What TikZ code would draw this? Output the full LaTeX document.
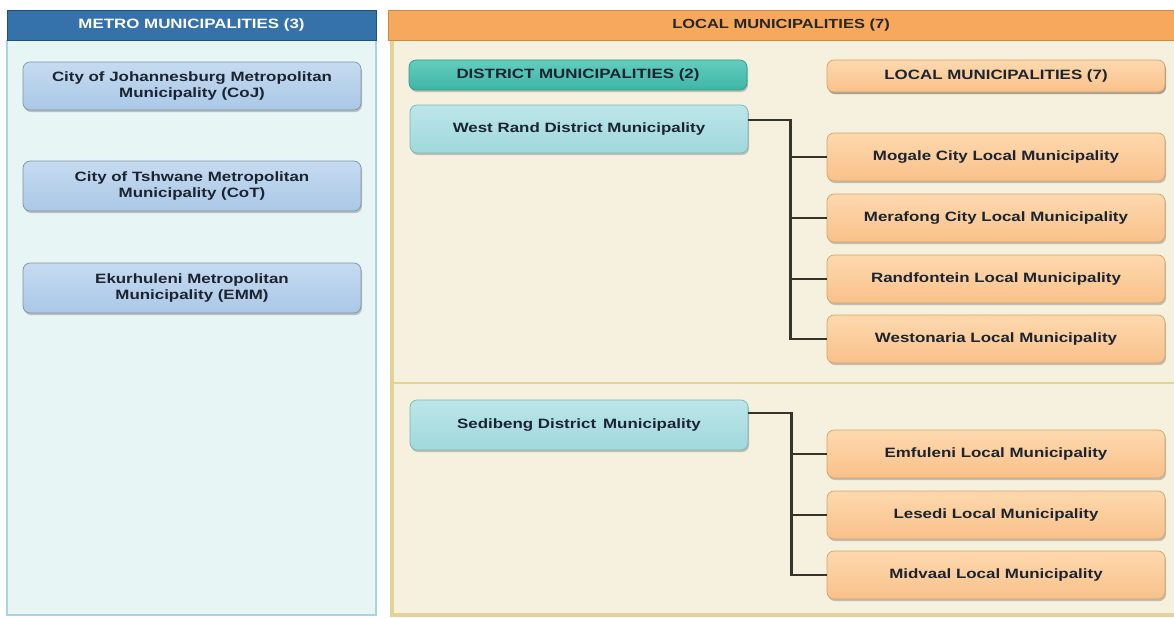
\documentclass[tikz,border=0pt]{standalone}
\usepackage{fontspec}
\setmainfont{Liberation Sans}[FakeStretch=1.25]
\usetikzlibrary{positioning, shadows, calc}

\definecolor{metroHead}{HTML}{3672AA}
\definecolor{metroHeadEdge}{HTML}{1F4E80}
\definecolor{metroPanel}{HTML}{E8F5F5}
\definecolor{metroEdge}{HTML}{A9D3DD}
\definecolor{metroTop}{HTML}{C6DBF0}
\definecolor{metroBot}{HTML}{AAC8E7}
\definecolor{metroDraw}{HTML}{7F93A8}
\definecolor{localHead}{HTML}{F6A95C}
\definecolor{localHeadEdge}{HTML}{C98A48}
\definecolor{localPanel}{HTML}{F5F1DE}
\definecolor{localEdge}{HTML}{E3D496}
\definecolor{distTop}{HTML}{62CDBF}
\definecolor{distBot}{HTML}{3FB5A6}
\definecolor{distDraw}{HTML}{2E9A8C}
\definecolor{drTop}{HTML}{BCE6E9}
\definecolor{drBot}{HTML}{A0D8DC}
\definecolor{drDraw}{HTML}{78B6BC}
\definecolor{lmTop}{HTML}{FDD9AE}
\definecolor{lmBot}{HTML}{F9C18A}
\definecolor{lmDraw}{HTML}{D6A266}
\definecolor{linkCol}{HTML}{34342A}
\definecolor{boxText}{HTML}{1B2430}

\begin{document}
\begin{tikzpicture}[
  x=0.02cm, y=-0.02cm,
  every node/.style={font=\fontsize{7.7}{9.2}\selectfont\bfseries, align=center},
  box/.style={rounded corners=4pt, draw, thin, minimum width=6.76cm,
              minimum height=0.96cm, inner sep=2pt, text=boxText,
              drop shadow={opacity=0.45, shadow xshift=0.6pt, shadow yshift=-1.2pt}},
  metro/.style={box, top color=metroTop, bottom color=metroBot, draw=metroDraw},
  district/.style={box, top color=drTop, bottom color=drBot, draw=drDraw},
  localm/.style={box, top color=lmTop, bottom color=lmBot, draw=lmDraw},
  subhead/.style={box, minimum height=0.6cm},
  link/.style={linkCol, line width=1.7pt}
]
\useasboundingbox (0,0) rectangle (1174,618);

%% panels
\fill[metroPanel] (7,10) rectangle (376,615);
\draw[metroEdge, line width=1.5pt] (7,40) -- (7,615) -- (376,615) -- (376,40);
\fill[localPanel] (390,40) rectangle (1174,615);
\draw[localEdge, line width=2pt] (1174,615) -- (392,615) -- (392,40);
\draw[localEdge, line width=1.5pt] (392,383) -- (1174,383);

%% headers
\node[fill=metroHead, draw=metroHeadEdge, text=white, minimum width=7.38cm,
      minimum height=0.6cm, inner sep=0pt] (metroh) at (191.5,25)
      {METRO MUNICIPALITIES (3)};
\node[fill=localHead, draw=localHeadEdge, text=black!85, minimum width=15.72cm,
      minimum height=0.6cm, inner sep=0pt, font=\fontsize{7.5}{9}\selectfont\bfseries]
      (localh) at (781,25) {LOCAL MUNICIPALITIES (7)};

%% metro municipalities
\node[metro] (coj) at (192,86)  {City of Johannesburg Metropolitan\\Municipality (CoJ)};
\node[metro, minimum height=1.0cm] (cot) at (192,186) {City of Tshwane Metropolitan\\Municipality (CoT)};
\node[metro, minimum height=1.0cm] (emm) at (192,288) {Ekurhuleni Metropolitan\\Municipality (EMM)};

%% column heads
\node[subhead, top color=distTop, bottom color=distBot, draw=distDraw] (disth) at (578,75)
      {DISTRICT MUNICIPALITIES (2)};
\node[subhead, localm, minimum height=0.64cm] (lmh) at (996,76)
      {LOCAL MUNICIPALITIES (7)};

%% West Rand
\node[district] (wrand) at (579,129) {West Rand District Municipality};
\node[localm] (mogale)   at (996,157) {Mogale City Local Municipality};
\node[localm] (merafong) at (996,218) {Merafong City Local Municipality};
\node[localm] (randf)    at (996,279) {Randfontein Local Municipality};
\node[localm] (weston)   at (996,339) {Westonaria Local Municipality};

%% Sedibeng
\node[district, minimum height=1.0cm] (sedi) at (579,425) {Sedibeng District\, Municipality};
\node[localm] (emf) at (996,454) {Emfuleni Local Municipality};
\node[localm] (les) at (996,515) {Lesedi Local Municipality};
\node[localm] (mid) at (996,575) {Midvaal Local Municipality};

%% connectors
\draw[link] ([yshift=0.18cm]wrand.east) -| ([xshift=-0.72cm]weston.west) -- (weston.west);
\foreach \b in {mogale,merafong,randf}
  \draw[link] (\b.west) -- ++(-0.74cm,0);
\draw[link] ([yshift=0.24cm]sedi.east) -| ([xshift=-0.7cm]mid.west) -- (mid.west);
\foreach \b in {emf,les}
  \draw[link] (\b.west) -- ++(-0.72cm,0);
\end{tikzpicture}
\end{document}
